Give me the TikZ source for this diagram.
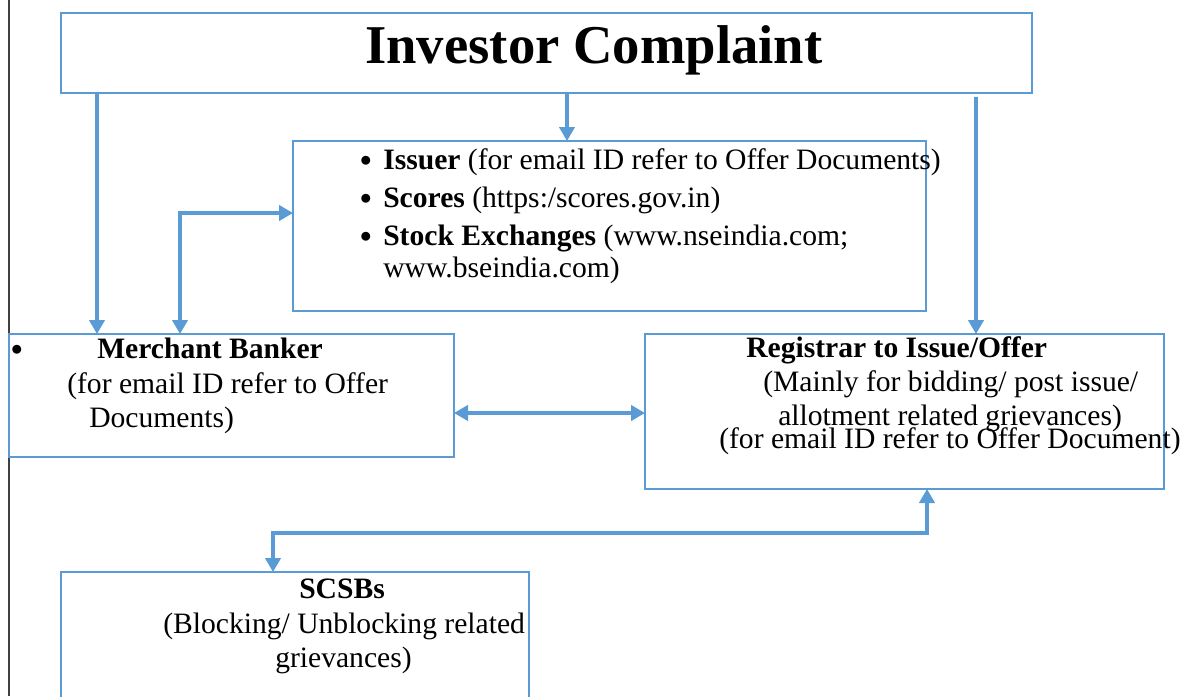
\documentclass[tikz,border=0pt]{standalone}
\usepackage{fontspec}
\setmainfont{Liberation Serif}
\usepackage{xcolor}
\usetikzlibrary{arrows.meta}
\definecolor{boxblue}{HTML}{5B9BD5}

\begin{document}
\begin{tikzpicture}[x=0.75pt,y=-0.75pt,
    box/.style={draw=boxblue,line width=2pt,inner sep=0pt,outer sep=0pt},
    txt/.style={anchor=base west,inner sep=0pt,font=\fontsize{22.2}{26}\selectfont},
    dot/.style={anchor=base,inner sep=0pt,font=\fontsize{19}{22}\selectfont},
    link/.style={draw=boxblue,line width=2.3pt,>={Triangle[length=10.5pt,width=11.5pt]}}]
    \useasboundingbox (0,0) rectangle (1187,696);

% Page rule on the left
    \draw[line width=1.5pt,black!75] (9,0) -- (9,696);

% Boxes
    \node[box,minimum width=728.25pt,minimum height=60pt] (complaint) at (546.5,53) {};
    \node[box,minimum width=474.75pt,minimum height=127.5pt] (issuer) at (609.5,226) {};
    \node[box,minimum width=333.75pt,minimum height=92.25pt] (merchant) at (231.5,395.5) {};
    \node[box,minimum width=389.25pt,minimum height=116.25pt] (registrar) at (904.5,411.5) {};
    \node[box,minimum width=351pt,minimum height=111pt] (scsb) at (295,646) {};

% Title
    \node[txt,font=\fontsize{41}{46}\selectfont\bfseries] (title) at (365,63) {Investor Complaint};

% Issuer list
    \node[dot] (issuerdotA) at (366,166) {$\bullet$};
    \node[txt] (issuerA) at (383,169) {\textbf{Issuer} (for email ID refer to Offer Documents)};
    \node[dot] (issuerdotB) at (366,204) {$\bullet$};
    \node[txt] (issuerB) at (383,207) {\textbf{Scores} (https:/scores.gov.in)};
    \node[dot] (issuerdotC) at (366,242) {$\bullet$};
    \node[txt] (issuerC) at (383,245) {\textbf{Stock Exchanges} (www.nseindia.com;};
    \node[txt] (issuerD) at (383,277) {www.bseindia.com)};

% Merchant banker
    \node[dot] (merchantdot) at (17,355) {$\bullet$};
    \node[txt] (merchantA) at (97,358) {\textbf{Merchant Banker}};
    \node[txt] (merchantB) at (67,393) {(for email ID refer to Offer};
    \node[txt] (merchantC) at (89,427) {Documents)};

% Registrar
    \node[txt] (registrarA) at (746,357) {\textbf{Registrar to Issue/Offer}};
    \node[txt] (registrarB) at (763,391) {(Mainly for bidding/ post issue/};
    \node[txt] (registrarC) at (778,425) {allotment related grievances)};
    \node[txt] (registrarD) at (719,448) {(for email ID refer to Offer Document)};

% SCSBs
    \node[txt] (scsbA) at (299,598) {\textbf{SCSBs}};
    \node[txt] (scsbB) at (163,633) {(Blocking/ Unblocking related};
    \node[txt] (scsbC) at (275,667) {grievances)};

% Connectors
    \draw[link,->] (complaint.south -| 97,0) -- (merchant.north -| 97,0);
    \draw[link,->] (complaint.south -| 567,0) -- (issuer.north -| 567,0);
    \draw[link,->] ([yshift=-3pt]complaint.south -| 976,0) -- (registrar.north -| 976,0);
    \draw[link,<->] (merchant.north -| 180,0) |- (issuer.west |- 0,213);
    \draw[link,<->] (merchant.east |- 0,413) -- (registrar.west |- 0,413);
    \draw[link,<->] (registrar.south -| 927,0) -- (927,533) -| (scsb.north -| 273,0);

\end{tikzpicture}
\end{document}
